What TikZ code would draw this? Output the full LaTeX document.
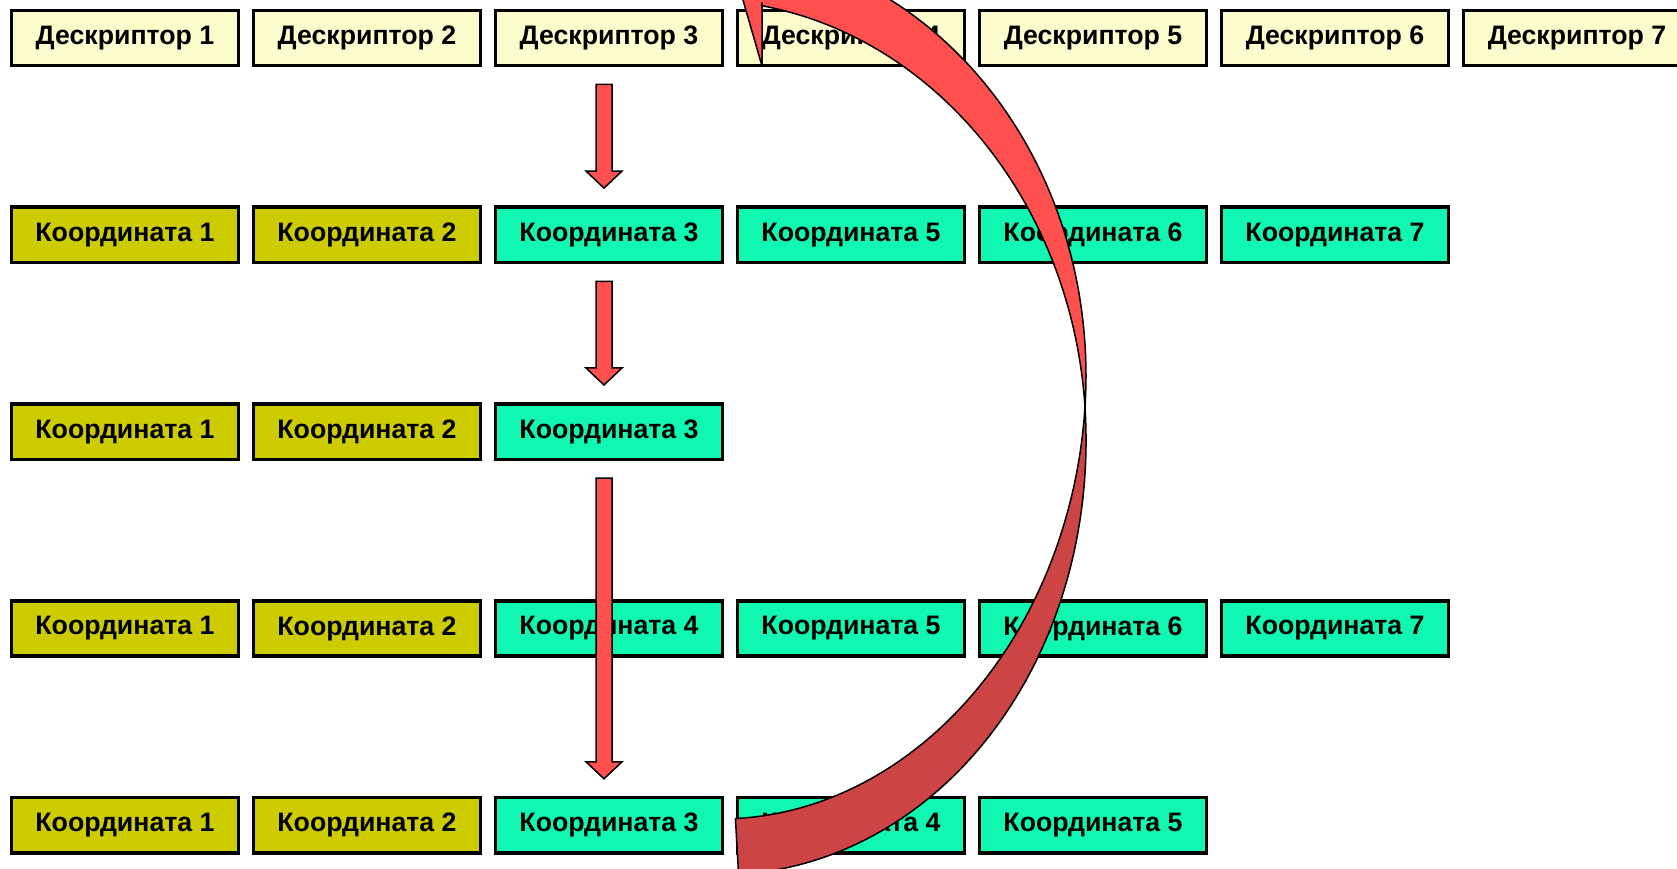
\documentclass[tikz,border=0pt]{standalone}
\usepackage{fontspec}
\setmainfont{Liberation Sans}
\usetikzlibrary{calc}

\definecolor{descfill}{RGB}{252,252,204}
\definecolor{oldfill}{RGB}{204,204,0}
\definecolor{newfill}{RGB}{16,247,178}
\definecolor{arrowred}{RGB}{255,80,80}
\definecolor{arrowdark}{RGB}{204,68,68}

% block arrow from the bottom of one box to the top of another
\newcommand\redarrow[2]{%
  \filldraw[blockarrow] let \p1=($(#1.south)+(-5pt,-19pt)$), \p2=($(#2.north)+(-5pt,19pt)$) in
    (\x1-8pt,\y1) -- (\x1+8pt,\y1) -- (\x1+8pt,\y2+17pt) -- (\x1+18pt,\y2+17pt)
    -- (\x1,\y2) -- (\x1-18pt,\y2+17pt) -- (\x1-8pt,\y2+17pt) -- cycle;}

\begin{document}
\begin{tikzpicture}[x=1pt, y=1pt,
  cell/.style={rectangle, draw=black, line width=3.3pt, fill=#1, minimum width=226.6pt,
    minimum height=55.2pt, inner sep=0pt, outer sep=0pt, font=\bfseries\fontsize{26.7}{30}\selectfont},
  blockarrow/.style={fill=arrowred, draw=black, line width=1.5pt},
  ribbon/.style={fill=#1, draw=black, line width=1.5pt, line join=round}]

  \useasboundingbox (0,0) rectangle (1677,869);
  \clip (0,0) rectangle (1677,869);

  %% descriptors
  \foreach \col in {1,...,7}
    \node[cell=descfill] (d\col) at ({125+242*(\col-1)}, 831.2) {Дескриптор \col};

  %% coordinate rows
  \foreach \col/\num/\kind in {1/1/oldfill, 2/2/oldfill, 3/3/newfill, 4/5/newfill, 5/6/newfill, 6/7/newfill}
    \node[cell=\kind] (k2\col) at ({125+242*(\col-1)}, 634.3) {Координата \num};

  \foreach \col/\num/\kind in {1/1/oldfill, 2/2/oldfill, 3/3/newfill}
    \node[cell=\kind] (k3\col) at ({125+242*(\col-1)}, 437.4) {Координата \num};

  \foreach \col/\num/\kind in {1/1/oldfill, 2/2/oldfill, 3/4/newfill, 4/5/newfill, 5/6/newfill, 6/7/newfill}
    \node[cell=\kind] (k4\col) at ({125+242*(\col-1)}, 240.5) {Координата \num};

  \foreach \col/\num/\kind in {1/1/oldfill, 2/2/oldfill, 3/3/newfill, 4/4/newfill, 5/5/newfill}
    \node[cell=\kind] (k5\col) at ({125+242*(\col-1)}, 43.6) {Координата \num};

  %% straight arrows
  \redarrow{d3}{k23}
  \redarrow{k23}{k33}
  \redarrow{k33}{k53}

  %% twisted arrow, back half
  \filldraw[ribbon=arrowdark]
    plot[domain=0:-87.33, samples=60, variable=\t]
      ({720+365*cos(\t)+28*sin(\t)*cos(\t)/sqrt(cos(\t)*cos(\t)+0.6881*sin(\t)*sin(\t))},
       {462+440*sin(\t)+23.23*sin(\t)*sin(\t)/sqrt(cos(\t)*cos(\t)+0.6881*sin(\t)*sin(\t))})
    -- plot[domain=-87.33:0, samples=60, variable=\t]
      ({720+365*cos(\t)-28*sin(\t)*cos(\t)/sqrt(cos(\t)*cos(\t)+0.6881*sin(\t)*sin(\t))},
       {462+440*sin(\t)-23.23*sin(\t)*sin(\t)/sqrt(cos(\t)*cos(\t)+0.6881*sin(\t)*sin(\t))})
    -- cycle;

  %% twisted arrow, front half with head
  \filldraw[ribbon=arrowred] (734,900) -- (762,803) -- (762,866)
    -- plot[domain=80:0, samples=60, variable=\t]
      ({700+385*cos(\t)-28*sin(\t)*cos(\t)/sqrt(cos(\t)*cos(\t)+0.7833*sin(\t)*sin(\t))},
       {462+435*sin(\t)-24.78*sin(\t)*sin(\t)/sqrt(cos(\t)*cos(\t)+0.7833*sin(\t)*sin(\t))})
    -- plot[domain=0:80, samples=60, variable=\t]
      ({700+385*cos(\t)+28*sin(\t)*cos(\t)/sqrt(cos(\t)*cos(\t)+0.7833*sin(\t)*sin(\t))},
       {462+435*sin(\t)+24.78*sin(\t)*sin(\t)/sqrt(cos(\t)*cos(\t)+0.7833*sin(\t)*sin(\t))})
    -- cycle;
\end{tikzpicture}
\end{document}
